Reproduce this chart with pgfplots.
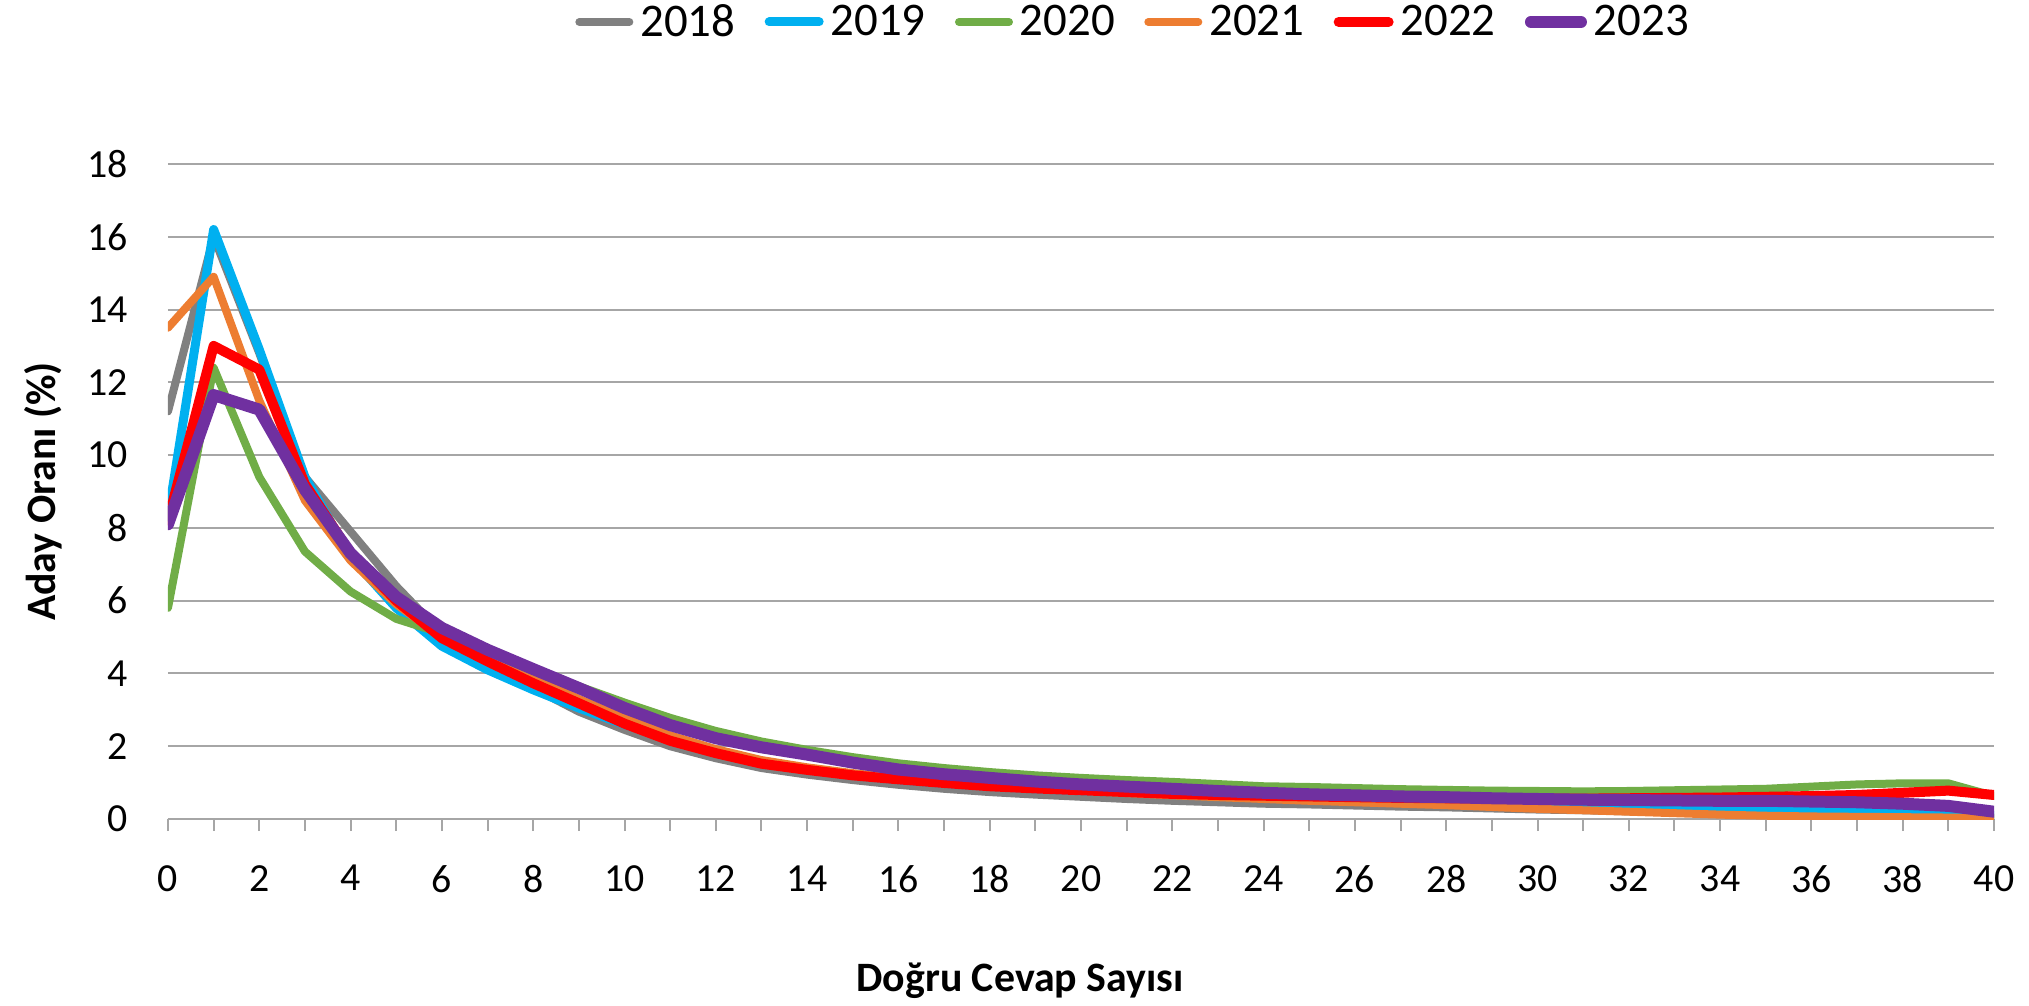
\documentclass[border=0pt]{standalone}
\usepackage{fontspec}
\setmainfont{Carlito}
\usepackage{pgfplots}
\usepackage{pgfplotstable}
\pgfplotsset{compat=1.18}

\definecolor{cGray}{HTML}{808080}
\definecolor{cBlue}{HTML}{00B0F0}
\definecolor{cGreen}{HTML}{70AD47}
\definecolor{cOrange}{HTML}{ED7D31}
\definecolor{cRed}{HTML}{FF0000}
\definecolor{cPurple}{HTML}{7030A0}
\definecolor{gridc}{HTML}{A6A6A6}

\pgfplotstableread{
x y18 y19 y20 y21 y22 y23
0 11.2 8.3 5.8 13.5 8.2 8.1
1 16.0 16.2 12.4 14.9 13.0 11.65
2 12.8 12.9 9.4 11.5 12.35 11.25
3 9.4 9.4 7.35 8.75 9.2 9.05
4 7.9 7.2 6.25 7.1 7.3 7.3
5 6.4 5.8 5.5 5.9 6.0 6.1
6 5.1 4.75 5.1 5.0 4.97 5.25
7 4.3 4.1 4.6 4.45 4.33 4.65
8 3.6 3.55 4.1 3.9 3.73 4.12
9 2.95 3.05 3.65 3.3 3.18 3.6
10 2.45 2.6 3.2 2.77 2.62 3.05
11 2.0 2.2 2.78 2.3 2.15 2.58
12 1.67 1.85 2.42 1.92 1.81 2.22
13 1.4 1.55 2.13 1.62 1.52 1.97
14 1.22 1.35 1.9 1.42 1.35 1.77
15 1.07 1.2 1.7 1.26 1.2 1.55
16 0.94 1.08 1.53 1.13 1.09 1.36
17 0.83 0.98 1.4 1.02 0.99 1.23
18 0.74 0.9 1.29 0.93 0.9 1.13
19 0.67 0.83 1.2 0.85 0.84 1.03
20 0.61 0.78 1.13 0.78 0.79 0.95
21 0.55 0.73 1.07 0.71 0.74 0.89
22 0.5 0.68 1.02 0.65 0.69 0.83
23 0.46 0.64 0.96 0.6 0.66 0.77
24 0.42 0.6 0.9 0.55 0.64 0.72
25 0.4 0.57 0.88 0.5 0.62 0.68
26 0.37 0.54 0.85 0.46 0.6 0.65
27 0.34 0.5 0.82 0.42 0.58 0.62
28 0.32 0.47 0.8 0.38 0.57 0.6
29 0.29 0.44 0.78 0.33 0.56 0.57
30 0.26 0.41 0.77 0.28 0.56 0.55
31 0.24 0.38 0.76 0.24 0.56 0.53
32 0.21 0.35 0.77 0.2 0.57 0.52
33 0.19 0.32 0.79 0.16 0.58 0.51
34 0.16 0.29 0.81 0.12 0.59 0.5
35 0.14 0.27 0.83 0.09 0.61 0.5
36 0.12 0.25 0.89 0.07 0.63 0.48
37 0.1 0.23 0.95 0.06 0.66 0.46
38 0.08 0.2 0.98 0.05 0.72 0.42
39 0.06 0.15 0.98 0.04 0.78 0.36
40 0.04 0.1 0.63 0.02 0.66 0.2
}\datatable

\begin{document}
\begin{tikzpicture}
\useasboundingbox (-84bp,-93.5bp) rectangle (930.5bp,409.5bp);
\begin{axis}[
  at={(0,0)}, anchor=south west,
  scale only axis,
  width=913bp, height=327.5bp,
  xmin=0, xmax=40, ymin=0, ymax=18,
  xtick={0,2,...,40},
  minor x tick num=1,
  ytick={0,2,...,18},
  axis x line*=bottom,
  axis y line*=left,
  x axis line style={draw=gridc, line width=1bp, -},
  y axis line style={draw=none},
  tick align=outside,
  major tick length=6bp,
  minor tick length=6bp,
  xtick style={draw=gridc, line width=1bp},
  minor x tick style={draw=gridc, line width=1bp},
  ytick style={draw=none},
  ymajorgrids,
  major grid style={draw=gridc, line width=1bp},
  /pgf/number format/assume math mode=true,
  ticklabel style={font=\fontsize{20}{22}\selectfont, text=black},
  yticklabel style={anchor=east, inner sep=0pt, xshift=-14bp},
  xticklabel style={anchor=north, inner sep=0pt, yshift=-17bp},
  xlabel={Doğru Cevap Sayısı},
  ylabel={Aday Oranı (\%)},
  label style={font=\bfseries\fontsize{21}{24}\selectfont},
  xlabel style={at={(axis description cs:0.4666,-0.247)}, anchor=center},
  ylabel style={at={(axis description cs:-0.0685,0.5)}, anchor=center, rotate=0},
  legend columns=-1,
  legend style={at={(axis description cs:0.528,1.2168)}, anchor=center,
    draw=none, fill=none, font=\fontsize{23.5}{26}\selectfont,
    nodes={inner sep=0pt},
    /tikz/every odd column/.append style={column sep=3.5bp},
    /tikz/every even column/.append style={column sep=14.7bp},
    inner sep=0pt},
  legend image code/.code={\draw[#1] (0bp,0bp) -- (25bp,0bp);},
  every axis plot/.append style={line cap=round, line join=round, no markers},
]
\addplot[cGray, line width=4bp] table[x=x, y=y18] {\datatable};
\addlegendentry{2018}
\addplot[cBlue, line width=4.5bp] table[x=x, y=y19] {\datatable};
\addlegendentry{2019}
\addplot[cGreen, line width=4bp] table[x=x, y=y20] {\datatable};
\addlegendentry{2020}
\addplot[cOrange, line width=4bp] table[x=x, y=y21] {\datatable};
\addlegendentry{2021}
\addplot[cRed, line width=5bp] table[x=x, y=y22] {\datatable};
\addlegendentry{2022}
\addplot[cPurple, line width=6bp] table[x=x, y=y23] {\datatable};
\addlegendentry{2023}
\end{axis}
\end{tikzpicture}
\end{document}
